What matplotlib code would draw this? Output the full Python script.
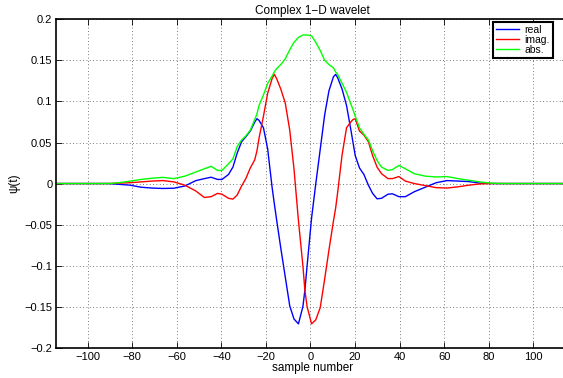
import matplotlib
matplotlib.use("Agg")
import matplotlib.pyplot as plt

plt.rcParams['font.family'] = ['Liberation Sans', 'DejaVu Sans']
plt.rcParams['axes.unicode_minus'] = True

# sample positions
n = [-114, -90.7, -85.8, -80.9, -76.0, -71.1, -66.2, -61.3, -56.4, -51.5,
     -47.6, -44.6, -41.7, -39.7, -36.8, -34.8, -32.9, -30.9, -29.0, -27.0,
     -25.0, -24.0, -23.1, -21.1, -19.2, -17.2, -16.2, -15.2, -13.3, -11.3,
     -9.3, -7.4, -5.4, -3.4, -2.5, -1.5, 0.5, 2.4, 4.4, 6.4,
     8.3, 10.3, 11.3, 12.2, 14.2, 16.2, 18.1, 19.1, 20.1, 22.0,
     24.0, 26.0, 27.9, 29.9, 31.9, 34.8, 36.8, 39.7, 42.6, 46.6,
     51.5, 56.4, 61.3, 66.2, 71.1, 76.0, 80.9, 85.8, 116]

real = [0, 0, -0.001, -0.002, -0.0045, -0.0055, -0.006, -0.0057, -0.003, 0.0035,
        0.006, 0.0077, 0.005, 0.005, 0.011, 0.020, 0.037, 0.051, 0.057, 0.064,
        0.075, 0.079, 0.077, 0.068, 0.042, -0.005, -0.025, -0.044, -0.079, -0.114,
        -0.149, -0.165, -0.171, -0.150, -0.130, -0.100, -0.042, 0.000, 0.042, 0.084,
        0.113, 0.130, 0.133, 0.129, 0.115, 0.095, 0.066, 0.050, 0.034, 0.019,
        0.011, -0.002, -0.012, -0.0186, -0.018, -0.013, -0.0125, -0.016, -0.016, -0.010,
        -0.0045, 0.001, 0.0036, 0.003, 0.0024, 0.0005, 0, 0, 0]

imag = [0, 0, 0.0005, 0.001, 0.002, 0.003, 0.0036, 0.002, -0.002, -0.009,
        -0.017, -0.016, -0.012, -0.013, -0.018, -0.019, -0.014, -0.003, 0.006, 0.019,
        0.029, 0.040, 0.055, 0.082, 0.110, 0.128, 0.133, 0.128, 0.115, 0.098,
        0.065, 0.018, -0.045, -0.100, -0.130, -0.150, -0.171, -0.166, -0.151, -0.116,
        -0.081, -0.046, -0.030, -0.011, 0.035, 0.068, 0.075, 0.078, 0.079, 0.064,
        0.059, 0.051, 0.034, 0.020, 0.012, 0.006, 0.006, 0.0085, 0.003, 0.000,
        -0.0025, -0.005, -0.0055, -0.004, -0.002, -0.0005, 0, 0, 0]

absval = [0, 0, 0.001, 0.003, 0.005, 0.0065, 0.0075, 0.006, 0.009, 0.014,
          0.018, 0.021, 0.016, 0.016, 0.024, 0.030, 0.045, 0.053, 0.058, 0.065,
          0.078, 0.085, 0.095, 0.108, 0.122, 0.131, 0.136, 0.140, 0.145, 0.152,
          0.163, 0.172, 0.178, 0.181, 0.181, 0.181, 0.180, 0.172, 0.162, 0.150,
          0.145, 0.141, 0.136, 0.133, 0.122, 0.111, 0.097, 0.090, 0.082, 0.068,
          0.060, 0.053, 0.040, 0.028, 0.020, 0.016, 0.017, 0.022, 0.018, 0.012,
          0.009, 0.008, 0.0085, 0.006, 0.004, 0.002, 0.0005, 0, 0]

xticks = [-100, -80, -60, -40, -20, 0, 20, 40, 60, 80, 100]
yticks = [-0.2, -0.15, -0.1, -0.05, 0, 0.05, 0.1, 0.15, 0.2]
ylabels = ['\u22120.2', '\u22120.15', '\u22120.1', '\u22120.05', '0',
           '0.05', '0.1', '0.15', '0.2']

fig = plt.figure(figsize=(5.63, 3.78), dpi=100)
ax = fig.add_axes([0.1003, 0.0802, 0.9082, 0.8685])

ax.plot(n, real, color=(0, 0, 1), lw=1.0, label='real')
ax.plot(n, imag, color=(1, 0, 0), lw=1.0, label='imag.')
ax.plot(n, absval, color=(0, 1, 0), lw=1.0, label='abs.')

ax.set_xlim(-114, 115.5)
ax.set_ylim(-0.2, 0.2)
ax.set_xticks(xticks)
ax.set_xticklabels([str(t).replace('-', '\u2212') for t in xticks])
ax.set_yticks(yticks)
ax.set_yticklabels(ylabels)
ax.tick_params(direction='in', length=4, width=0.6, labelsize=8,
               top=True, right=True, pad=3)
ax.grid(True, linestyle=(0, (1, 3)), color='0.3', lw=0.6)
for s in ax.spines.values():
    s.set_linewidth(1.2)

ax.set_title('Complex 1\u2212D wavelet', fontsize=8.5, pad=4)
ax.set_xlabel('sample number', fontsize=8.5, labelpad=0)
ax.set_ylabel('\u03c8(t)', fontsize=8.5, labelpad=3)

leg = ax.legend(loc='upper left', bbox_to_anchor=(493 / 563, 1 - 22 / 378),
                bbox_transform=fig.transFigure,
                fontsize=7.5, frameon=True, fancybox=False, framealpha=1,
                edgecolor='black', handlelength=2.2, handletextpad=0.5,
                borderpad=0.3, labelspacing=0.0, borderaxespad=0)
leg.get_frame().set_linewidth(1.5)

fig.savefig('out.png', dpi=100)
